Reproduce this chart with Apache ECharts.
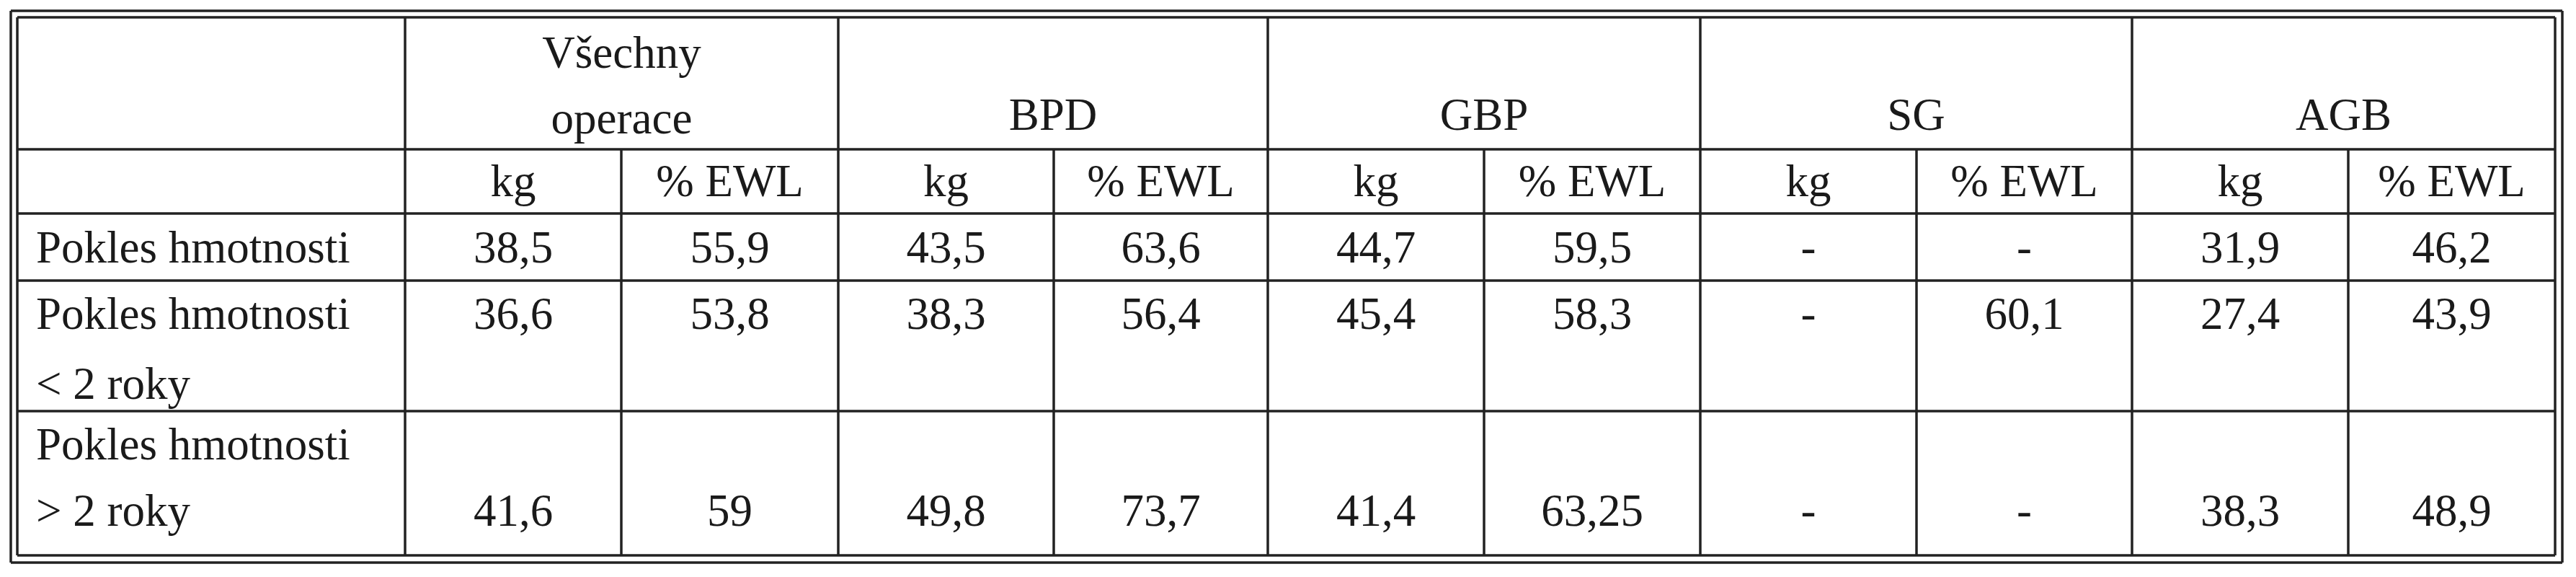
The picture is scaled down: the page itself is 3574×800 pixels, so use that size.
<!DOCTYPE html>
<html><head><meta charset="utf-8">
<script src="https://cdn.jsdelivr.net/npm/echarts@6/dist/echarts.min.js"></script>
<style>html,body{margin:0;padding:0;background:#fff}#c{width:3574px;height:800px}</style>
</head><body><div id="c"></div>
<script>
// ---- data ----
const groups = ["Všechny\noperace", "BPD", "GBP", "SG", "AGB"];
const units = ["kg", "% EWL"];
const rowLabels = ["Pokles hmotnosti", "Pokles hmotnosti\n< 2 roky", "Pokles hmotnosti\n\n> 2 roky"];
const rowAll   = ["38,5", "55,9", "43,5", "63,6", "44,7", "59,5", "-", "-", "31,9", "46,2"];
const rowLt2   = ["36,6", "53,8", "38,3", "56,4", "45,4", "58,3", "-", "60,1", "27,4", "43,9"];
const rowGt2   = ["41,6", "59", "49,8", "73,7", "41,4", "63,25", "-", "-", "38,3", "48,9"];
const valueRows = [rowAll, rowLt2, rowGt2];

// ---- layout ----
const colX = [24, 562, 862, 1163, 1462, 1759, 2059, 2359, 2659, 2958, 3258, 3545];
const rowY = [24, 207, 296, 389, 570, 770];
const valueY = [347, 439, 712];
const labelY = [347, 487, 666];

const lines = [];
// outer double border
[[15, 15, 3555, 780], [24, 24, 3545, 770]].forEach(([a, b, c, d]) => {
  lines.push([a, b, c, b], [a, d, c, d], [a, b, a, d], [c, b, c, d]);
});
rowY.slice(1, -1).forEach(y => lines.push([24, y, 3545, y]));
colX.slice(1, -1).forEach((x, i) => {
  const isGroupEdge = (i % 2 === 0);
  lines.push([x, isGroupEdge ? 24 : 207, x, 770]);
});

const texts = [];
groups.forEach((g, i) => {
  const cx = (colX[1 + 2 * i] + colX[3 + 2 * i]) / 2;
  if (g.indexOf('\n') >= 0) {
    const parts = g.split('\n');
    texts.push([cx, 77, parts[0], 'center'], [cx, 168, parts[1], 'center']);
  } else texts.push([cx, 163, g, 'center']);
  units.forEach((u, j) => {
    const c = (colX[1 + 2 * i + j] + colX[2 + 2 * i + j]) / 2;
    texts.push([c, 255, u, 'center']);
  });
});
rowLabels.forEach((l, r) => {
  const parts = l.split('\n');
  const ys = r === 0 ? [347] : r === 1 ? [439, 536] : [620, 712];
  let k = 0;
  parts.forEach(p => { if (p) { texts.push([50, ys[k], p, 'left']); } k++; if (!p) k = 1; });
});
valueRows.forEach((vals, r) => {
  vals.forEach((v, c) => {
    texts.push([(colX[1 + c] + colX[2 + c]) / 2, valueY[r], v, 'center']);
  });
});

const chart = echarts.init(document.getElementById('c'));
chart.setOption({
  animation: false,
  grid: { left: 0, right: 0, top: 0, bottom: 0 },
  xAxis: { type: 'value', min: 0, max: 3574, show: false },
  yAxis: { type: 'value', min: 0, max: 800, inverse: true, show: false },
  series: [
    {
      type: 'custom', data: lines,
      renderItem: (params, api) => {
        const p1 = api.coord([api.value(0), api.value(1)]);
        const p2 = api.coord([api.value(2), api.value(3)]);
        return { type: 'line', shape: { x1: p1[0], y1: p1[1], x2: p2[0], y2: p2[1] },
          style: { stroke: '#222', lineWidth: 3.5 } };
      }
    },
    {
      type: 'custom', data: texts.map(t => ({ value: [t[0], t[1]], name: t[2], align: t[3] })),
      renderItem: (params, api) => {
        const d = texts[params.dataIndex];
        const p = api.coord([d[0], d[1]]);
        return { type: 'text', x: p[0], y: p[1],
          style: { text: d[2], fill: '#1a1a1a', font: '63px "Liberation Serif", "Times New Roman", serif',
            align: d[3], verticalAlign: 'middle' } };
      }
    }
  ]
});
</script></body></html>
